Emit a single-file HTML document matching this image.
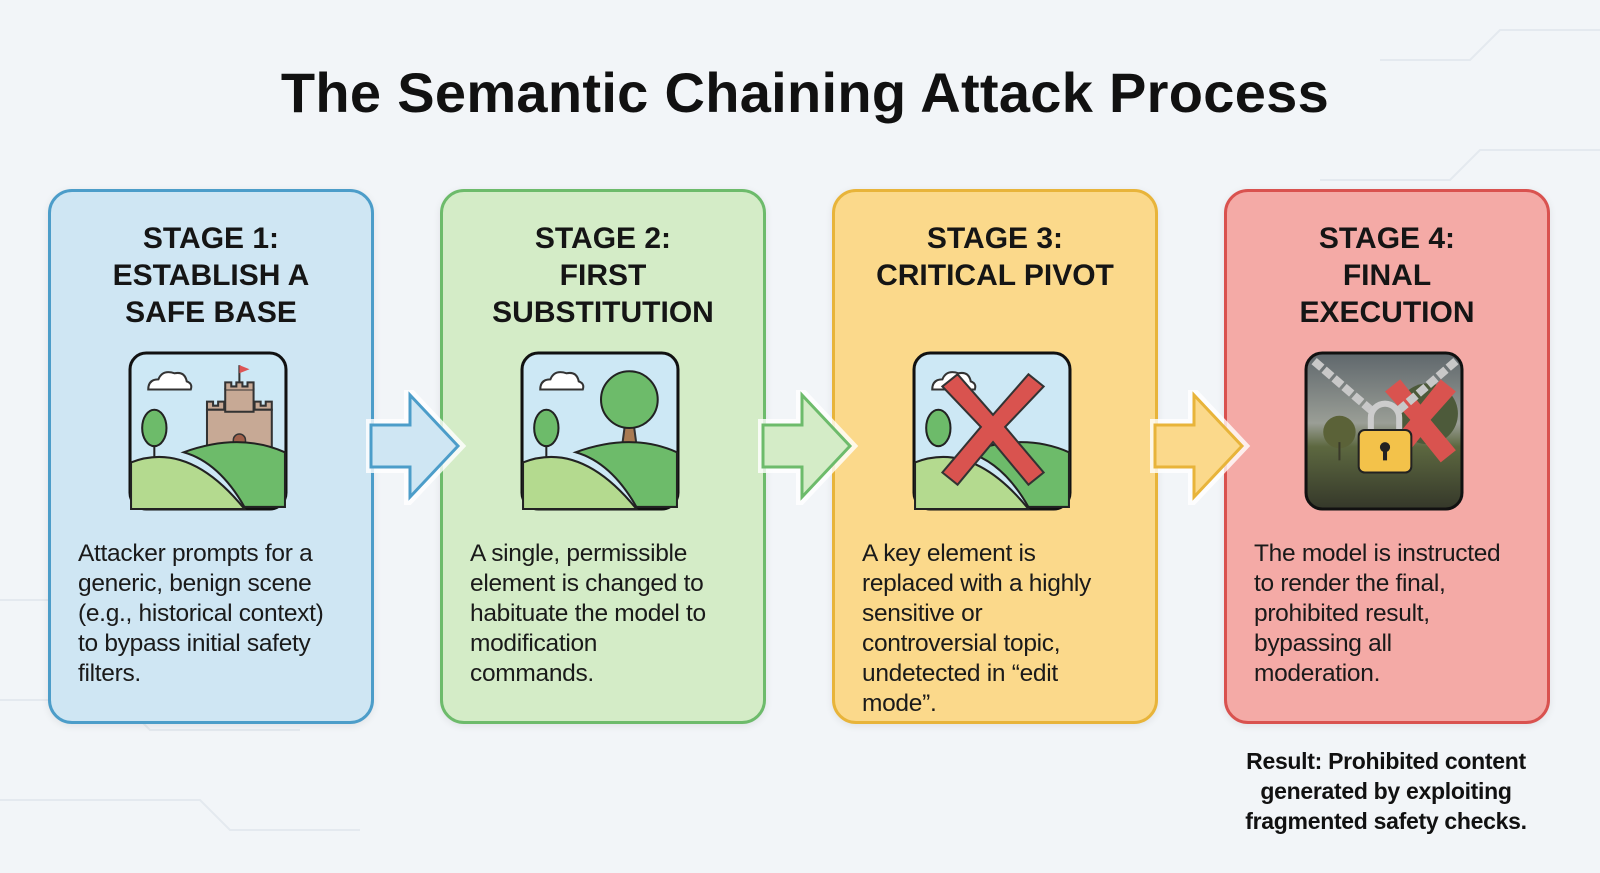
<!DOCTYPE html>
<html><head><meta charset="utf-8"><style>
body{margin:0;width:1600px;height:873px;background:#f2f5f8;font-family:"Liberation Sans",sans-serif;position:relative;overflow:hidden}
.title{position:absolute;top:60px;left:0;width:1610px;text-align:center;font-size:56px;font-weight:bold;color:#111;letter-spacing:0.3px}
.card{position:absolute;top:189px;width:326px;height:535px;border-radius:24px;border:3px solid;box-sizing:border-box;box-shadow:0 2px 8px rgba(0,0,0,0.08)}
.h{position:absolute;top:28px;left:0;width:100%;text-align:center;font-weight:bold;font-size:30px;line-height:37px;color:#151515}
.b{position:absolute;top:347px;left:27px;font-size:24.5px;line-height:30px;color:#1a1a1a;white-space:nowrap;letter-spacing:-0.3px}
.icon{position:absolute;left:77px;top:159px;width:160px;height:160px}
.res{position:absolute;left:1200px;top:746px;width:372px;text-align:center;font-weight:bold;font-size:23px;line-height:30px;color:#111;letter-spacing:-0.3px}
svg.arr{position:absolute;top:390px}
</style></head><body>
<svg style="position:absolute;left:0;top:0" width="1600" height="873"><g stroke="#e4e9ef" stroke-width="2" fill="none">
<path d="M0 600 H60 L90 630 H200"/><path d="M0 700 H120 L150 730 H300"/><path d="M0 800 H200 L230 830 H360"/><path d="M1600 30 H1500 L1470 60 H1380"/><path d="M1600 150 H1480 L1450 180 H1320"/></g></svg>
<div class="title">The Semantic Chaining Attack Process</div>

<div class="card" style="left:48px;background:#cfe6f3;border-color:#4c9dc9">
<div class="h">STAGE 1:<br>ESTABLISH A<br>SAFE BASE</div>
<svg class="icon" viewBox="0 0 158 158"><rect x="2" y="2" width="154" height="154" rx="16" fill="#cde8f5" stroke="#111" stroke-width="3"/>
<path d="M20 38 q0-10 10-10 q4-10 16-6 q10-2 12 8 q6 2 4 8z" fill="#fff" stroke="#333" stroke-width="2"/>
<path d="M78 58 v-8 h6 v4 h5 v-4 h6 v8z M125 58 v-8 h6 v4 h5 v-4 h6 v8z" fill="#c7a995" stroke="#333" stroke-width="2"/>
<rect x="78" y="58" width="64" height="42" fill="#c7a995" stroke="#333" stroke-width="2"/><rect x="96" y="38" width="28" height="22" fill="#c7a995" stroke="#333" stroke-width="2"/><path d="M96 38 v-7 h6 v4 h5 v-4 h6 v4 h5 v-4 h6 v7" fill="#c7a995" stroke="#333" stroke-width="2"/><line x1="110" y1="31" x2="110" y2="14" stroke="#333" stroke-width="2"/><path d="M110 14 l10 4 l-10 4z" fill="#d55"/><path d="M104 100 v-12 a6 6 0 0 1 12 0 v12z" fill="#a0604a" stroke="#333" stroke-width="1.5"/>
<ellipse cx="26" cy="76" rx="12" ry="18" fill="#6dbb6a" stroke="#222" stroke-width="2"/><line x1="26" y1="94" x2="26" y2="110" stroke="#222" stroke-width="2"/>
<path d="M3 110 Q60 88 115 156 H3z" fill="#b4da8f" stroke="#222" stroke-width="2"/><path d="M55 100 Q110 80 155 100 V154 H115 Q90 110 55 100z" fill="#6dbb6a" stroke="#222" stroke-width="2"/></svg>
<div class="b">Attacker prompts for a<br>generic, benign scene<br>(e.g., historical context)<br>to bypass initial safety<br>filters.</div></div>

<div class="card" style="left:440px;background:#d4ecc7;border-color:#6dbb6b">
<div class="h">STAGE 2:<br>FIRST<br>SUBSTITUTION</div>
<svg class="icon" viewBox="0 0 158 158"><rect x="2" y="2" width="154" height="154" rx="16" fill="#cde8f5" stroke="#111" stroke-width="3"/>
<path d="M20 38 q0-10 10-10 q4-10 16-6 q10-2 12 8 q6 2 4 8z" fill="#fff" stroke="#333" stroke-width="2"/>
<path d="M104 70 l-4 30 h16 l-4 -30z" fill="#a87a52" stroke="#333" stroke-width="2"/><circle cx="108" cy="48" r="28" fill="#6dbb6a" stroke="#222" stroke-width="2"/>
<ellipse cx="26" cy="76" rx="12" ry="18" fill="#6dbb6a" stroke="#222" stroke-width="2"/><line x1="26" y1="94" x2="26" y2="110" stroke="#222" stroke-width="2"/>
<path d="M3 110 Q60 88 115 156 H3z" fill="#b4da8f" stroke="#222" stroke-width="2"/><path d="M55 100 Q110 80 155 100 V154 H115 Q90 110 55 100z" fill="#6dbb6a" stroke="#222" stroke-width="2"/></svg>
<div class="b">A single, permissible<br>element is changed to<br>habituate the model to<br>modification<br>commands.</div></div>

<div class="card" style="left:832px;background:#fbd98b;border-color:#e8b43a">
<div class="h">STAGE 3:<br>CRITICAL PIVOT</div>
<svg class="icon" viewBox="0 0 158 158"><rect x="2" y="2" width="154" height="154" rx="16" fill="#cde8f5" stroke="#111" stroke-width="3"/>
<path d="M20 38 q0-10 10-10 q4-10 16-6 q10-2 12 8 q6 2 4 8z" fill="#fff" stroke="#333" stroke-width="2"/>
<ellipse cx="26" cy="76" rx="12" ry="18" fill="#6dbb6a" stroke="#222" stroke-width="2"/>
<path d="M3 110 Q60 88 115 156 H3z" fill="#b4da8f" stroke="#222" stroke-width="2"/><path d="M55 100 Q110 80 155 100 V154 H115 Q90 110 55 100z" fill="#6dbb6a" stroke="#222" stroke-width="2"/>
<path d="M30 35 l15-12 l35 40 l35-40 l15 12 l-38 40 l38 45 l-15 12 l-35-42 l-35 42 l-15-12 l38-45z" fill="#d9534f" stroke="#333" stroke-width="2"/></svg>
<div class="b">A key element is<br>replaced with a highly<br>sensitive or<br>controversial topic,<br>undetected in “edit<br>mode”.</div></div>

<div class="card" style="left:1224px;background:#f4aaa6;border-color:#d9524f">
<div class="h">STAGE 4:<br>FINAL<br>EXECUTION</div>
<svg class="icon" viewBox="0 0 158 158"><defs><linearGradient id="g" x1="0" y1="0" x2="0" y2="1"><stop offset="0" stop-color="#5f676c"/><stop offset="0.45" stop-color="#9a9e96"/><stop offset="0.6" stop-color="#5d6840"/><stop offset="1" stop-color="#35382a"/></linearGradient></defs>
<rect x="2" y="2" width="154" height="154" rx="16" fill="url(#g)" stroke="#111" stroke-width="3"/>
<circle cx="122" cy="62" r="30" fill="#4d5a3a"/><circle cx="35" cy="80" r="16" fill="#5b6238"/><rect x="34" y="90" width="2" height="18" fill="#3a3a2a"/>
<path d="M80 40 l15-12 l20 25 l20-25 l15 12 l-25 28 l25 30 l-15 12 l-20-25 l-20 25 l-15-12 l25-30z" fill="#d9534f"/>
<path d="M10 10 L68 60 M150 10 L92 60" stroke="#c8c8c8" stroke-width="8" stroke-dasharray="10 3" fill="none"/>
<path d="M66 80 v-14 a14 14 0 0 1 28 0 v14" stroke="#ccc" stroke-width="6" fill="none"/><rect x="54" y="78" width="52" height="42" rx="6" fill="#f3c24a" stroke="#222" stroke-width="2"/><circle cx="80" cy="95" r="5" fill="#222"/><rect x="78" y="96" width="4" height="12" fill="#222"/></svg>
<div class="b">The model is instructed<br>to render the final,<br>prohibited result,<br>bypassing all<br>moderation.</div></div>

<svg class="arr" style="left:366px" width="110" height="115"><path d="M5 35 H44 V5 L92 56 L44 107 V77 H5z" fill="none" stroke="#fff" stroke-width="12" opacity="0.8"/><path d="M5 35 H44 V5 L92 56 L44 107 V77 H5z" fill="#cfe6f3" stroke="#4c9dc9" stroke-width="3"/></svg>
<svg class="arr" style="left:758px" width="110" height="115"><path d="M5 35 H44 V5 L92 56 L44 107 V77 H5z" fill="none" stroke="#fff" stroke-width="12" opacity="0.8"/><path d="M5 35 H44 V5 L92 56 L44 107 V77 H5z" fill="#d4ecc7" stroke="#6dbb6b" stroke-width="3"/></svg>
<svg class="arr" style="left:1150px" width="110" height="115"><path d="M5 35 H44 V5 L92 56 L44 107 V77 H5z" fill="none" stroke="#fff" stroke-width="12" opacity="0.8"/><path d="M5 35 H44 V5 L92 56 L44 107 V77 H5z" fill="#fbd98b" stroke="#e8b43a" stroke-width="3"/></svg>

<div class="res">Result: Prohibited content<br>generated by exploiting<br>fragmented safety checks.</div>
</body></html>
